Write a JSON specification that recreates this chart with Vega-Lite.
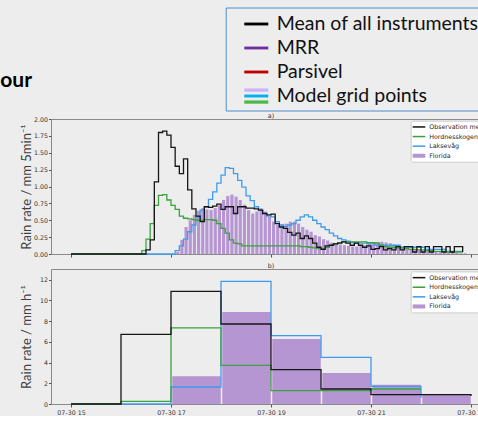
{
  "$schema": "https://vega.github.io/schema/vega-lite/v6.json",
  "background": "#ededed",
  "padding": 0,
  "spacing": 1,
  "config": {
    "view": {"stroke": "#8a8a8a", "fill": "white"},
    "axis": {"labelFont": "DejaVu Sans", "labelFontSize": 6.3, "labelColor": "#333333", "labelOverlap": false, "labelSeparation": 0, "tickColor": "#555555", "tickSize": 3, "domain": false, "grid": false, "titleFont": "Lato", "titleFontWeight": "normal", "titleFontSize": 13, "titleColor": "#404040"},
    "title": {"font": "DejaVu Sans", "fontSize": 6.3, "fontWeight": "normal", "color": "#333333", "offset": 1.5}
  },
  "vconcat": [
    {
      "width": 440,
      "height": 87,
      "view": {"stroke": null, "fill": null},
      "title": {"text": "our", "orient": "left", "anchor": "start", "frame": "group", "angle": 0, "align": "left", "baseline": "alphabetic", "offset": 19, "font": "Lato", "fontSize": 21, "fontWeight": "bold", "color": "#000000"},
      "layer": [
        {
          "data": {"values": []},
          "mark": {"type": "point", "filled": true, "opacity": 1, "shape": "M-1,-0.12H1V0.12H-1Z"},
          "encoding": {"color": {"field": "item", "type": "nominal",
            "scale": {"domain": ["Mean of all instruments", "MRR", "Parsivel", "Model grid points"], "range": ["#000000", "#7030a0", "#c00000", "#00b0f0"]},
            "legend": {"title": null, "orient": "none", "legendX": 174.7, "legendY": 7.5, "padding": 4.5, "rowPadding": 2, "symbolType": "M-1,-0.12H1V0.12H-1Z", "symbolSize": 576, "symbolStrokeWidth": 0, "symbolOpacity": 1, "symbolOffset": 14.1, "labelOffset": 8.4, "labelFont": "Lato", "labelFontSize": 19.5, "labelColor": "#111111", "labelLimit": 400, "strokeColor": "#4f8ed0"}}}
        },
        {
          "data": {"values": []},
          "mark": {"type": "point", "filled": true, "opacity": 1, "shape": "M-1,-0.63H1V-0.36H-1Z"},
          "encoding": {"color": {"field": "item", "type": "nominal",
            "scale": {"domain": ["Mean of all instruments", "MRR", "Parsivel", "Model grid points"], "range": ["transparent", "transparent", "transparent", "#cbb2f8"]},
            "legend": {"title": null, "orient": "none", "legendX": 174.7, "legendY": 7.5, "padding": 4.5, "rowPadding": 2, "symbolType": "M-1,-0.63H1V-0.36H-1Z", "symbolSize": 576, "symbolStrokeWidth": 0, "symbolOpacity": 1, "symbolOffset": 14.1, "labelOffset": 8.4, "labelFont": "Lato", "labelFontSize": 19.5, "labelOpacity": 0, "labelLimit": 400}}}
        },
        {
          "data": {"values": []},
          "mark": {"type": "point", "filled": true, "opacity": 1, "shape": "M-1,0.37H1V0.64H-1Z"},
          "encoding": {"color": {"field": "item", "type": "nominal",
            "scale": {"domain": ["Mean of all instruments", "MRR", "Parsivel", "Model grid points"], "range": ["transparent", "transparent", "transparent", "#4cb848"]},
            "legend": {"title": null, "orient": "none", "legendX": 174.7, "legendY": 7.5, "padding": 4.5, "rowPadding": 2, "symbolType": "M-1,0.37H1V0.64H-1Z", "symbolSize": 576, "symbolStrokeWidth": 0, "symbolOpacity": 1, "symbolOffset": 14.1, "labelOffset": 8.4, "labelFont": "Lato", "labelFontSize": 19.5, "labelOpacity": 0, "labelLimit": 400}}}
        }
      ],
      "resolve": {"scale": {"color": "independent"}, "legend": {"color": "independent"}}
    },
    {
      "width": 440,
      "height": 135,
      "title": {"text": "a)", "offset": -3.2},
      "data": {
        "format": {"parse": {"t": "date:'%H:%M'"}},
        "values": [
          {"t":"15:00","a":0,"g":0,"l":0},
          {"t":"16:20","a":0,"g":0,"l":0},
          {"t":"16:25","a":0,"g":0.05,"l":0},
          {"t":"16:30","a":0.06,"g":0.22,"l":0},
          {"t":"16:35","a":0.21,"g":0.45,"l":0},
          {"t":"16:40","a":1.07,"g":0.72,"l":0},
          {"t":"16:45","a":1.8,"g":0.87,"l":0},
          {"t":"16:50","a":1.82,"g":0.88,"l":0},
          {"t":"16:55","a":1.76,"g":0.8,"l":0},
          {"t":"17:00","a":1.58,"g":0.72,"l":0},
          {"t":"17:05","a":1.3,"g":0.66,"l":0.05,"f":0.03},
          {"t":"17:10","a":1.19,"g":0.56,"l":0.12,"f":0.21},
          {"t":"17:15","a":1.41,"g":0.53,"l":0.22,"f":0.4},
          {"t":"17:20","a":0.95,"g":0.52,"l":0.33,"f":0.5},
          {"t":"17:25","a":0.67,"g":0.51,"l":0.43,"f":0.58},
          {"t":"17:30","a":0.56,"g":0.5,"l":0.55,"f":0.64},
          {"t":"17:35","a":0.48,"g":0.5,"l":0.65,"f":0.68},
          {"t":"17:40","a":0.7,"g":0.51,"l":0.7,"f":0.66},
          {"t":"17:45","a":0.69,"g":0.51,"l":0.81,"f":0.65},
          {"t":"17:50","a":0.71,"g":0.5,"l":0.92,"f":0.68},
          {"t":"17:55","a":0.74,"g":0.45,"l":1.05,"f":0.72},
          {"t":"18:00","a":0.66,"g":0.38,"l":1.17,"f":0.8},
          {"t":"18:05","a":0.7,"g":0.31,"l":1.28,"f":0.86},
          {"t":"18:10","a":0.7,"g":0.21,"l":1.27,"f":0.88},
          {"t":"18:15","a":0.6,"g":0.16,"l":1.19,"f":0.85},
          {"t":"18:20","a":0.7,"g":0.15,"l":1.09,"f":0.8},
          {"t":"18:25","a":0.7,"g":0.12,"l":0.99,"f":0.73},
          {"t":"18:30","a":0.68,"g":0.12,"l":0.86,"f":0.65},
          {"t":"18:35","a":0.68,"g":0.12,"l":0.79,"f":0.6},
          {"t":"18:40","a":0.67,"g":0.12,"l":0.7,"f":0.63},
          {"t":"18:45","a":0.65,"g":0.12,"l":0.65,"f":0.68},
          {"t":"18:50","a":0.6,"g":0.12,"l":0.6,"f":0.63},
          {"t":"18:55","a":0.58,"g":0.12,"l":0.56,"f":0.55},
          {"t":"19:00","a":0.59,"g":0.12,"l":0.55,"f":0.48},
          {"t":"19:05","a":0.45,"g":0.12,"l":0.48,"f":0.43},
          {"t":"19:10","a":0.4,"g":0.12,"l":0.43,"f":0.44},
          {"t":"19:15","a":0.38,"g":0.12,"l":0.41,"f":0.45},
          {"t":"19:20","a":0.32,"g":0.12,"l":0.43,"f":0.48},
          {"t":"19:25","a":0.28,"g":0.12,"l":0.45,"f":0.48},
          {"t":"19:30","a":0.31,"g":0.12,"l":0.5,"f":0.45},
          {"t":"19:35","a":0.23,"g":0.11,"l":0.55,"f":0.4},
          {"t":"19:40","a":0.27,"g":0.11,"l":0.58,"f":0.36},
          {"t":"19:45","a":0.23,"g":0.1,"l":0.55,"f":0.33},
          {"t":"19:50","a":0.16,"g":0.09,"l":0.5,"f":0.28},
          {"t":"19:55","a":0.1,"g":0.08,"l":0.45,"f":0.26},
          {"t":"20:00","a":0.07,"g":0.08,"l":0.4,"f":0.22},
          {"t":"20:05","a":0.12,"g":0.1,"l":0.36,"f":0.2},
          {"t":"20:10","a":0.13,"g":0.13,"l":0.31,"f":0.17},
          {"t":"20:15","a":0.15,"g":0.15,"l":0.27,"f":0.16},
          {"t":"20:20","a":0.16,"g":0.17,"l":0.23,"f":0.14},
          {"t":"20:25","a":0.18,"g":0.18,"l":0.21,"f":0.13},
          {"t":"20:30","a":0.16,"g":0.18,"l":0.19,"f":0.12},
          {"t":"20:35","a":0.13,"g":0.18,"l":0.17,"f":0.11},
          {"t":"20:40","a":0.16,"g":0.18,"l":0.16,"f":0.11},
          {"t":"20:45","a":0.13,"g":0.18,"l":0.16,"f":0.12},
          {"t":"20:50","a":0.1,"g":0.18,"l":0.16,"f":0.13},
          {"t":"20:55","a":0.12,"g":0.17,"l":0.15,"f":0.16},
          {"t":"21:00","a":0.07,"g":0.17,"l":0.15,"f":0.17},
          {"t":"21:05","a":0.08,"g":0.16,"l":0.13,"f":0.18},
          {"t":"21:10","a":0.11,"g":0.13,"l":0.13,"f":0.18},
          {"t":"21:15","a":0.06,"g":0.11,"l":0.13,"f":0.17},
          {"t":"21:20","a":0.08,"g":0.1,"l":0.13,"f":0.16},
          {"t":"21:25","a":0.06,"g":0.1,"l":0.13,"f":0.14},
          {"t":"21:30","a":0.11,"g":0.09,"l":0.13,"f":0.13},
          {"t":"21:35","a":0.06,"g":0.09,"l":0.1,"f":0.11},
          {"t":"21:40","a":0.11,"g":0.08,"l":0.1,"f":0.09},
          {"t":"21:45","a":0.11,"g":0.07,"l":0.1,"f":0.08},
          {"t":"21:50","a":0.03,"g":0.07,"l":0.1,"f":0.07},
          {"t":"21:55","a":0.11,"g":0.06,"l":0.1,"f":0.06},
          {"t":"22:00","a":0.03,"g":0.06,"l":0.1,"f":0.05},
          {"t":"22:05","a":0.11,"g":0.05,"l":0.07,"f":0.05},
          {"t":"22:10","a":0.03,"g":0.05,"l":0.07,"f":0.04},
          {"t":"22:15","a":0.11,"g":0.04,"l":0.07,"f":0.04},
          {"t":"22:20","a":0.11,"g":0.04,"l":0.07,"f":0.03},
          {"t":"22:25","a":0.03,"g":0.04,"l":0.07,"f":0.03},
          {"t":"22:30","a":0.11,"g":0.03,"l":0.04,"f":0.02},
          {"t":"22:35","a":0.03,"g":0.03,"l":0.04,"f":0.02},
          {"t":"22:40","a":0.11,"g":0.03,"l":0.04,"f":0.02},
          {"t":"22:45","a":0.11,"g":0.03,"l":0.04,"f":0.01},
          {"t":"22:50","a":0.03,"g":0.03,"l":0.04,"f":0.01}
        ]
      },
      "layer": [
        {
          "mark": {"type": "bar", "color": "#b696d2", "binSpacing": 1},
          "encoding": {
            "x": {"field": "t", "type": "temporal", "timeUnit": {"unit": "yearmonthdatehoursminutes", "step": 5},
              "scale": {"domain": [{"year": 1900, "month": 1, "date": 1, "hours": 14, "minutes": 36}, {"year": 1900, "month": 1, "date": 1, "hours": 23, "minutes": 24}]},
              "axis": {"title": null, "values": [{"year": 1900, "month": 1, "date": 1, "hours": 15}, {"year": 1900, "month": 1, "date": 1, "hours": 17}, {"year": 1900, "month": 1, "date": 1, "hours": 19}, {"year": 1900, "month": 1, "date": 1, "hours": 21}, {"year": 1900, "month": 1, "date": 1, "hours": 23}], "format": "07-30 %H", "labelOpacity": 0, "labelFontSize": 1, "labelPadding": 2, "tickSize": 3}},
            "y": {"field": "f", "type": "quantitative", "scale": {"domain": [0, 2], "nice": false},
              "axis": {"title": "Rain rate / mm 5min⁻¹", "values": [0, 0.25, 0.5, 0.75, 1, 1.25, 1.5, 1.75, 2], "format": ".2f", "titlePadding": 0, "tickSize": 2.5, "labelPadding": 1, "labelOverlap": false, "labelSeparation": 0}}
          }
        },
        {
          "transform": [{"fold": ["l", "g", "a"], "as": ["s", "v"]}, {"filter": "isValid(datum.v)"}],
          "mark": {"type": "line", "interpolate": "step-after", "strokeWidth": 1.3},
          "encoding": {
            "x": {"field": "t", "type": "temporal",
              "axis": {"title": null, "values": [{"year": 1900, "month": 1, "date": 1, "hours": 15}, {"year": 1900, "month": 1, "date": 1, "hours": 17}, {"year": 1900, "month": 1, "date": 1, "hours": 19}, {"year": 1900, "month": 1, "date": 1, "hours": 21}, {"year": 1900, "month": 1, "date": 1, "hours": 23}], "format": "07-30 %H", "labelOpacity": 0, "labelFontSize": 1, "labelPadding": 2, "tickSize": 3}},
            "y": {"field": "v", "type": "quantitative",
              "axis": {"title": "Rain rate / mm 5min⁻¹", "values": [0, 0.25, 0.5, 0.75, 1, 1.25, 1.5, 1.75, 2], "format": ".2f", "titlePadding": 0, "tickSize": 2.5, "labelPadding": 1, "labelOverlap": false, "labelSeparation": 0}},
            "stroke": {"field": "s", "type": "nominal", "scale": {"domain": ["l", "g", "a"], "range": ["#3e9cf0", "#3aa33a", "#161616"]}, "legend": null}
          }
        },
        {
          "data": {"values": []},
          "mark": {"type": "point", "filled": true, "opacity": 1, "shape": "M-1.4,-0.17H1.4V0.17H-1.4Z"},
          "encoding": {"color": {"field": "item", "type": "nominal",
            "scale": {"domain": ["Observation mean", "Hordnesskogen", "Laksevåg", "Florida"], "range": ["#161616", "#3aa33a", "#3e9cf0", "transparent"]},
            "legend": {"title": null, "orient": "none", "legendX": 359.7, "legendY": 1.7, "padding": 1.75, "rowPadding": 1.6, "symbolType": "M-1.4,-0.17H1.4V0.17H-1.4Z", "symbolSize": 81, "symbolStrokeWidth": 0, "symbolOpacity": 1, "symbolOffset": 2.05, "labelOffset": 5.75, "labelFont": "DejaVu Sans", "labelFontSize": 6.3, "labelColor": "#262626", "fillColor": "white", "strokeColor": "#cccccc", "cornerRadius": 2}}}
        },
        {
          "data": {"values": []},
          "mark": {"type": "point", "filled": true, "opacity": 1, "shape": "M-1.4,-0.45H1.4V0.45H-1.4Z"},
          "encoding": {"color": {"field": "item", "type": "nominal",
            "scale": {"domain": ["Observation mean", "Hordnesskogen", "Laksevåg", "Florida"], "range": ["transparent", "transparent", "transparent", "#b696d2"]},
            "legend": {"title": null, "orient": "none", "legendX": 359.7, "legendY": 1.7, "padding": 1.75, "rowPadding": 1.6, "symbolType": "M-1.4,-0.45H1.4V0.45H-1.4Z", "symbolSize": 81, "symbolStrokeWidth": 0, "symbolOpacity": 1, "symbolOffset": 2.05, "labelOffset": 5.75, "labelFont": "DejaVu Sans", "labelFontSize": 6.3, "labelOpacity": 0}}}
        }
      ],
      "resolve": {"scale": {"color": "independent"}, "legend": {"color": "independent"}}
    },
    {
      "width": 440,
      "height": 135,
      "title": {"text": "b)", "offset": 0},
      "data": {
        "format": {"parse": {"t": "date:'%H:%M'"}},
        "values": [
          {"t":"15:00","a":0,"g":0,"l":0},
          {"t":"16:00","a":6.72,"g":0.26,"l":0},
          {"t":"17:00","a":10.87,"g":7.34,"l":1.64,"f":2.67},
          {"t":"18:00","a":7.72,"g":3.73,"l":11.84,"f":8.88},
          {"t":"19:00","a":3.31,"g":1.29,"l":6.6,"f":6.27},
          {"t":"20:00","a":1.45,"g":1.29,"l":4.5,"f":2.99},
          {"t":"21:00","a":0.9,"g":1.45,"l":1.71,"f":1.87},
          {"t":"22:00","a":0.9,"g":1.45,"l":0.6,"f":0.9},
          {"t":"23:00","a":0.78}
        ]
      },
      "layer": [
        {
          "mark": {"type": "bar", "color": "#b696d2", "binSpacing": 1.5},
          "encoding": {
            "x": {"field": "t", "type": "temporal", "timeUnit": "yearmonthdatehours",
              "scale": {"domain": [{"year": 1900, "month": 1, "date": 1, "hours": 14, "minutes": 36}, {"year": 1900, "month": 1, "date": 1, "hours": 23, "minutes": 24}]},
              "axis": {"title": null, "values": [{"year": 1900, "month": 1, "date": 1, "hours": 15}, {"year": 1900, "month": 1, "date": 1, "hours": 17}, {"year": 1900, "month": 1, "date": 1, "hours": 19}, {"year": 1900, "month": 1, "date": 1, "hours": 21}, {"year": 1900, "month": 1, "date": 1, "hours": 23}], "format": "07-30 %H", "labelPadding": 2, "tickSize": 3}},
            "y": {"field": "f", "type": "quantitative", "scale": {"domain": [0, 13.03], "nice": false},
              "axis": {"title": "Rain rate / mm h⁻¹", "values": [0, 2, 4, 6, 8, 10, 12], "format": "d", "titlePadding": 6, "tickSize": 2.5, "labelPadding": 1, "labelOverlap": false, "labelSeparation": 0}}
          }
        },
        {
          "transform": [{"fold": ["l", "g", "a"], "as": ["s", "v"]}, {"filter": "isValid(datum.v)"}],
          "mark": {"type": "line", "interpolate": "step-after", "strokeWidth": 1.3},
          "encoding": {
            "x": {"field": "t", "type": "temporal",
              "axis": {"title": null, "values": [{"year": 1900, "month": 1, "date": 1, "hours": 15}, {"year": 1900, "month": 1, "date": 1, "hours": 17}, {"year": 1900, "month": 1, "date": 1, "hours": 19}, {"year": 1900, "month": 1, "date": 1, "hours": 21}, {"year": 1900, "month": 1, "date": 1, "hours": 23}], "format": "07-30 %H", "labelPadding": 2, "tickSize": 3}},
            "y": {"field": "v", "type": "quantitative",
              "axis": {"title": "Rain rate / mm h⁻¹", "values": [0, 2, 4, 6, 8, 10, 12], "format": "d", "titlePadding": 6, "tickSize": 2.5, "labelPadding": 1, "labelOverlap": false, "labelSeparation": 0}},
            "stroke": {"field": "s", "type": "nominal", "scale": {"domain": ["l", "g", "a"], "range": ["#3e9cf0", "#3aa33a", "#161616"]}, "legend": null}
          }
        },
        {
          "data": {"values": []},
          "mark": {"type": "point", "filled": true, "opacity": 1, "shape": "M-1.4,-0.17H1.4V0.17H-1.4Z"},
          "encoding": {"color": {"field": "item", "type": "nominal",
            "scale": {"domain": ["Observation mean", "Hordnesskogen", "Laksevåg", "Florida"], "range": ["#161616", "#3aa33a", "#3e9cf0", "transparent"]},
            "legend": {"title": null, "orient": "none", "legendX": 359.7, "legendY": 2.4, "padding": 1.75, "rowPadding": 1.6, "symbolType": "M-1.4,-0.17H1.4V0.17H-1.4Z", "symbolSize": 81, "symbolStrokeWidth": 0, "symbolOpacity": 1, "symbolOffset": 2.05, "labelOffset": 5.75, "labelFont": "DejaVu Sans", "labelFontSize": 6.3, "labelColor": "#262626", "fillColor": "white", "strokeColor": "#cccccc", "cornerRadius": 2}}}
        },
        {
          "data": {"values": []},
          "mark": {"type": "point", "filled": true, "opacity": 1, "shape": "M-1.4,-0.45H1.4V0.45H-1.4Z"},
          "encoding": {"color": {"field": "item", "type": "nominal",
            "scale": {"domain": ["Observation mean", "Hordnesskogen", "Laksevåg", "Florida"], "range": ["transparent", "transparent", "transparent", "#b696d2"]},
            "legend": {"title": null, "orient": "none", "legendX": 359.7, "legendY": 2.4, "padding": 1.75, "rowPadding": 1.6, "symbolType": "M-1.4,-0.45H1.4V0.45H-1.4Z", "symbolSize": 81, "symbolStrokeWidth": 0, "symbolOpacity": 1, "symbolOffset": 2.05, "labelOffset": 5.75, "labelFont": "DejaVu Sans", "labelFontSize": 6.3, "labelOpacity": 0}}}
        }
      ],
      "resolve": {"scale": {"color": "independent"}, "legend": {"color": "independent"}}
    }
  ]
}
